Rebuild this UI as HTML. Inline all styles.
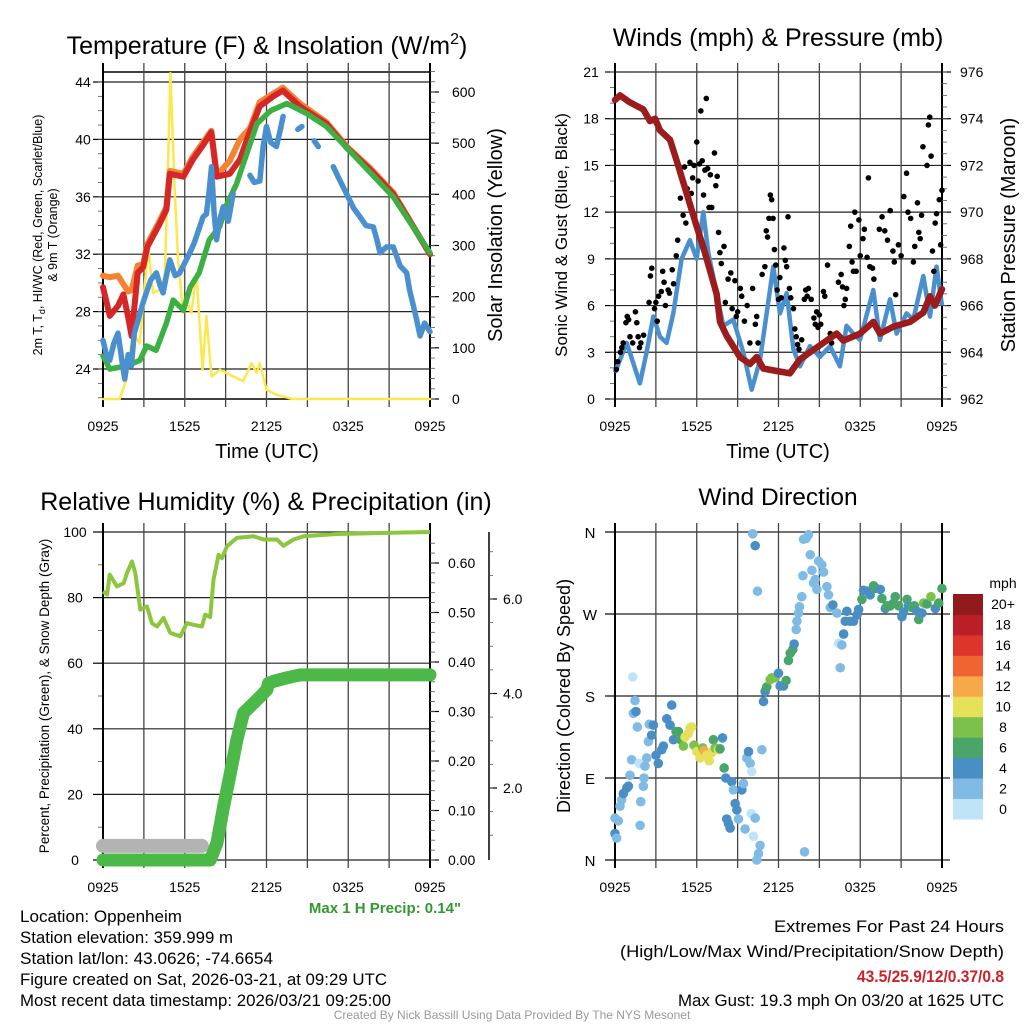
<!DOCTYPE html>
<html><head><meta charset="utf-8">
<style>
html,body{margin:0;padding:0;background:#fff;}
body{width:1024px;height:1024px;overflow:hidden;position:relative;font-family:"Liberation Sans",sans-serif;}
svg{position:absolute;left:0;top:0;}
text{font-family:"Liberation Sans",sans-serif;fill:#000;}
</style></head>
<body>
<svg id="chart" width="1024" height="1024" viewBox="0 0 1024 1024" xmlns="http://www.w3.org/2000/svg">
  <text x="267" y="54" font-size="25" text-anchor="middle">Temperature (F) &amp; Insolation (W/m<tspan dy="-10" font-size="16">2</tspan><tspan dy="10">)</tspan></text>
  <text x="778" y="46" font-size="25" text-anchor="middle">Winds (mph) &amp; Pressure (mb)</text>
  <text x="266" y="510" font-size="25" text-anchor="middle">Relative Humidity (%) &amp; Precipitation (in)</text>
  <text x="778" y="505" font-size="24.5" text-anchor="middle">Wind Direction</text>

  <text x="267" y="458" font-size="20" text-anchor="middle">Time (UTC)</text>
  <text x="778" y="458" font-size="20" text-anchor="middle">Time (UTC)</text>

  <text transform="translate(42,235) rotate(-90)" font-size="12.5" text-anchor="middle">2m T, T<tspan dy="3" font-size="9">d</tspan><tspan dy="-3">, HI/WC (Red, Green, Scarlet/Blue)</tspan></text>
  <text transform="translate(57,235) rotate(-90)" font-size="12.5" text-anchor="middle">&amp; 9m T (Orange)</text>
  <text transform="translate(502,235) rotate(-90)" font-size="20" text-anchor="middle">Solar Insolation (Yellow)</text>
  <text transform="translate(567,235) rotate(-90)" font-size="17" text-anchor="middle">Sonic Wind &amp; Gust (Blue, Black)</text>
  <text transform="translate(1015,235) rotate(-90)" font-size="20" text-anchor="middle">Station Pressure (Maroon)</text>
  <text transform="translate(49,696) rotate(-90)" font-size="13.5" text-anchor="middle">Percent, Precipitation (Green), &amp; Snow Depth (Gray)</text>
  <text transform="translate(570,696) rotate(-90)" font-size="18" text-anchor="middle">Direction (Colored By Speed)</text>

  <g id="layers"></g>

  <text x="385" y="913" font-size="15" font-weight="bold" text-anchor="middle" style="fill:#2f9a2f">Max 1 H Precip: 0.14"</text>
  <g font-size="16.5">
    <text x="20" y="922" textLength="162" lengthAdjust="spacingAndGlyphs">Location: Oppenheim</text>
    <text x="20" y="943" textLength="213" lengthAdjust="spacingAndGlyphs">Station elevation: 359.999 m</text>
    <text x="20" y="964" textLength="253" lengthAdjust="spacingAndGlyphs">Station lat/lon: 43.0626; -74.6654</text>
    <text x="20" y="985" textLength="367" lengthAdjust="spacingAndGlyphs">Figure created on Sat, 2026-03-21, at 09:29 UTC</text>
    <text x="20" y="1006" textLength="371" lengthAdjust="spacingAndGlyphs">Most recent data timestamp: 2026/03/21 09:25:00</text>
  </g>
  <g font-size="16.5">
    <text x="774" y="932" textLength="230" lengthAdjust="spacingAndGlyphs">Extremes For Past 24 Hours</text>
    <text x="620" y="957" textLength="384" lengthAdjust="spacingAndGlyphs">(High/Low/Max Wind/Precipitation/Snow Depth)</text>
    <text x="857" y="982" font-weight="bold" style="fill:#cc2229" textLength="147" lengthAdjust="spacingAndGlyphs">43.5/25.9/12/0.37/0.8</text>
    <text x="678" y="1006" textLength="326" lengthAdjust="spacingAndGlyphs">Max Gust: 19.3 mph On 03/20 at 1625 UTC</text>
  </g>
  <text x="512" y="1019" font-size="12" text-anchor="middle" style="fill:#999">Created By Nick Bassill Using Data Provided By The NYS Mesonet</text>
</svg>
<script>
// ---------- DATA (hours since 0925 UTC) ----------
const timeTickLabels = ["0925","1525","2125","0325","0925"];
const tempTicks = [24,28,32,36,40,44];
const insolTicks = [0,100,200,300,400,500,600];
const windTicks = [0,3,6,9,12,15,18,21];
const pressTicks = [962,964,966,968,970,972,974,976];
const rhTicks = [0,20,40,60,80,100];
const precipTicks = [0,0.1,0.2,0.3,0.4,0.5,0.6];
const snowTicks = [2,4,6];
const dirTicks = ["N","E","S","W","N"];
const speedBins = ["0","2","4","6","8","10","12","14","16","18","20+"];

const temp2m = [[0,29.7],[0.5,27.7],[1.1,28.4],[1.5,29.2],[1.85,27.6],[2.1,26.3],[2.55,30.7],[2.95,31.1],[3.25,32.5],[4.15,34.1],[4.65,35.1],[4.9,37.6],[5.9,37.4],[6.6,38.6],[7.35,39.6],[7.95,40.5],[8.35,37.4],[9.3,37.6],[10.05,38.6],[10.8,40.6],[11.5,42.3],[12.5,43.0],[13.2,43.4],[14.45,42.3],[16.4,41.1],[17.9,39.4],[19.6,37.9],[21.3,36.2],[24,32.0]];
const temp9m = [[0,30.5],[0.5,30.4],[1.1,30.5],[1.5,29.9],[1.85,29.4],[2.1,29.5],[2.55,31.2],[2.95,31.3],[3.25,32.7],[4.15,34.3],[4.65,35.3],[4.9,37.8],[5.9,37.6],[6.6,38.8],[7.35,39.8],[7.95,40.6],[8.35,37.5],[9.3,38.5],[10.05,40.0],[10.8,40.8],[11.5,42.6],[12.5,43.2],[13.2,43.6],[14.45,42.5],[16.4,41.2],[17.9,39.5],[19.6,38.0],[21.3,36.3],[24,32.0]];
const dewpoint = [[0,24.9],[0.5,24.0],[1.7,24.2],[2.7,24.6],[3.2,25.6],[3.9,25.3],[4.65,27.2],[5.15,28.8],[5.9,28.1],[6.4,29.7],[7.05,30.7],[7.8,33.0],[8.55,33.9],[9.1,35.5],[9.8,36.9],[10.55,39.0],[11.3,41.1],[12.3,42.0],[13.5,42.5],[14.95,41.8],[16.4,40.9],[17.9,39.4],[21.3,36.0],[24,32.1]];
const windChill = [[0,26],[0.3,24.8],[0.49,24.6],[0.8,25.8],[1.1,26.5],[1.4,24.5],[1.59,23.3],[1.85,25.0],[2.08,24.2],[2.3,26.5],[2.57,27.4],[2.9,28.5],[3.18,29.3],[3.5,30.2],[3.92,30.7],[4.2,29.8],[4.41,29.3],[4.65,30.5],[4.9,31.6],[5.3,30.5],[5.63,30.7],[6.0,31.4],[6.37,32.1],[6.7,32.8],[7.1,33.9],[7.35,34.6],[7.59,34.8],[7.8,36.5],[7.96,38.1],[8.15,35.0],[8.33,33.0],[8.6,34.5],[8.82,35.3],[9.2,34.3],[9.55,36.2],null,[10.78,37.5],[11.1,37.0],[11.51,37.1],[11.75,39.5],[12.0,40.9],[12.3,39.8],[12.73,39.5],[13.0,40.6],[13.22,41.6],null,[14.3,40.7],[14.6,40.9],null,[15.5,39.9],[15.8,39.5],null,[16.9,38.1],[17.3,37.3],[17.88,36.2],[18.4,35.2],[18.86,34.6],[19.3,34.0],[19.84,33.9],[20.1,33.0],[20.33,32.1],[20.8,32.5],[21.31,32.5],[21.8,31.2],[22.29,30.7],[22.5,29.5],[22.78,28.4],[23.0,27.5],[23.27,26.3],[23.6,27.2],[24,26.6]];
const insolation = [[0,0],[1.22,0],[1.71,38],[2.2,129],[2.69,109],[3.06,220],[3.31,298],[3.67,207],[4.16,214],[4.53,240],[4.7,383],[4.95,637],[5.27,403],[5.51,272],[5.88,168],[6.12,194],[6.49,168],[6.86,246],[7.3,57],[7.59,162],[7.96,44],[8.57,57],[9.55,44],[10.29,35],[10.9,70],[11.27,51],[11.51,70],[12,18],[12.73,8],[13.96,0],[24,0]];

const windSpeed = [[0,1.7],[0.86,3.6],[1.83,1],[2.32,3],[2.81,5.3],[3.3,4],[3.79,3.6],[4.28,5.5],[4.89,9],[5.5,10.2],[5.99,9],[6.48,12],[6.85,9.4],[7.46,6.8],[7.95,4.7],[8.68,5.1],[9.42,3],[10.03,0.6],[10.64,2.5],[11.62,8.5],[12.11,5.5],[12.6,6.8],[13.09,3.2],[13.58,2.1],[14.31,3.4],[15.04,2.7],[15.78,3.4],[16.51,2.1],[17,4.7],[17.49,4.2],[17.98,3.8],[18.96,7],[19.45,3.8],[20.18,6.4],[20.67,4.2],[21.4,5.5],[21.89,5.1],[22.63,7.9],[23.12,5.3],[23.6,8.5],[24,6]];
const windGust = [[0.1,1.9],[0.2,2.4],[0.4,3],[0.5,3.3],[0.6,3.6],[0.8,4.9],[0.9,5.3],[1.0,5.1],[1.1,4],[1.3,3.6],[1.5,5.6],[1.6,4.9],[1.7,4],[1.8,3.3],[1.9,3.6],[2.1,4.1],[2.5,6.2],[2.6,7.9],[2.7,8.4],[2.9,5.8],[3.0,6.2],[3.1,5],[3.2,6.6],[3.4,6.9],[3.5,8.2],[3.6,7.5],[3.7,6],[3.9,7],[4.0,6.8],[4.2,8.3],[4.3,7.4],[4.5,9.2],[4.6,10.2],[4.8,12.9],[5.0,11.8],[5.1,14.9],[5.2,11.3],[5.3,13.5],[5.5,15.2],[5.6,13.2],[5.7,14.2],[5.8,15],[6.0,16.5],[6.1,14],[6.2,15.1],[6.3,18.5],[6.4,15.3],[6.5,13.1],[6.6,14.7],[6.7,19.3],[6.8,14.8],[6.9,12.3],[7.0,14.4],[7.1,12.3],[7.3,15.8],[7.4,13.7],[7.5,14.3],[7.6,10.7],[7.7,9.4],[7.8,8.7],[8.0,9.8],[8.1,6.2],[8.3,7.7],[8.5,8.1],[8.6,5.8],[8.8,7.6],[8.9,5.3],[9.0,5.6],[9.2,7.1],[9.3,6.6],[9.5,5],[9.7,6],[9.9,3.6],[10.1,7.1],[10.3,4.8],[10.4,5.3],[10.5,3.6],[10.8,8],[11.0,8.5],[11.1,10.8],[11.2,10.4],[11.3,11.6],[11.4,13.1],[11.5,12.8],[11.6,11.6],[11.7,9.6],[11.8,8.6],[11.9,7],[12.0,6.4],[12.1,7.8],[12.2,6.5],[12.4,9.7],[12.5,8.9],[12.6,8.5],[12.7,11.7],[12.8,7.1],[12.9,6.5],[13.1,5.8],[13.2,4.5],[13.3,4],[13.4,3.5],[13.5,3.2],[13.7,3.8],[13.9,6.4],[14.0,7],[14.1,6.6],[14.2,7.1],[14.4,6.4],[14.6,5.2],[14.7,4.8],[14.8,5.6],[14.9,4.6],[15.0,5.4],[15.1,4.8],[15.3,6.9],[15.4,6.6],[15.6,8.6],[15.8,4.2],[15.9,3.6],[16.4,7.5],[16.6,8],[16.7,7.2],[16.8,6],[16.9,6.4],[17.0,7.1],[17.2,9.8],[17.3,11.1],[17.4,8.8],[17.5,8.2],[17.6,12],[17.7,8.2],[17.9,11.5],[18.0,9.2],[18.2,10.3],[18.3,10.9],[18.5,9.1],[18.6,14.2],[18.7,8.5],[18.9,8.4],[19.0,7.7],[19.4,10.9],[19.6,11.7],[19.8,10.8],[20.0,10.2],[20.2,12.1],[20.4,9.5],[20.5,8.8],[20.6,6.7],[20.8,9.9],[21.0,9.2],[21.2,13],[21.4,14.5],[21.5,12],[21.7,11.6],[21.9,8.8],[22.0,9.8],[22.2,12.6],[22.3,10.7],[22.4,10.3],[22.5,11.8],[22.6,16.2],[22.9,15],[23.0,17.6],[23.1,18.1],[23.2,15.6],[23.3,9.5],[23.4,8.2],[23.5,11.3],[23.6,11.9],[23.8,12.8],[23.9,9.9],[24,13.4]];
const pressure = [[0,974.8],[0.37,975],[1.1,974.7],[2.08,974.4],[2.57,973.9],[2.94,974],[3.3,973.5],[4.04,973.1],[4.53,972.2],[5.26,970.8],[5.99,969.4],[6.48,968.5],[6.97,967.5],[7.46,966.5],[7.71,965.3],[8.2,964.7],[9.17,963.8],[9.91,963.5],[10.4,963.8],[10.89,963.3],[11.87,963.2],[12.84,963.1],[13.58,963.7],[14.56,964.1],[15.53,964.5],[16.27,964.8],[16.76,964.5],[17.98,964.8],[18.96,965.3],[19.45,964.8],[20.43,965.1],[21.65,965.3],[22.63,965.7],[23.12,966.4],[23.48,966],[24,966.7]];

const relHumidity = [[0,81.9],[0.3,80.9],[0.49,87],[1.03,83.4],[1.52,84.4],[1.76,87.5],[2.13,91],[2.37,87.5],[2.74,76.3],[3.23,77.3],[3.59,72.2],[3.96,71.2],[4.45,73.8],[4.94,69.2],[5.67,68.2],[6.16,72.2],[6.65,71.7],[7.26,71.2],[7.5,74.8],[7.87,74.1],[8.11,85.5],[8.48,93],[8.73,92],[9.09,95.6],[9.83,98.2],[11.05,98.7],[11.79,97.7],[12.76,97.7],[13.25,95.8],[13.98,97.7],[14.72,98.7],[17.16,99.4],[24,100]];
const precipAccum = [[0,0],[7.87,0],[8.36,0.034],[8.85,0.108],[9.34,0.175],[9.83,0.243],[10.31,0.297],[10.8,0.31],[11.54,0.33],[12.03,0.344],[12.15,0.357],[12.52,0.361],[13.5,0.368],[14.47,0.374],[24,0.374]];
const snowDepthPct = [[0,4.3],[7.26,4.3]];

const windDir = [[0,46,2.5],[0,29,4.5],[0.12,24,2.5],[0.24,43,2.5],[0.37,59,2.5],[0.49,66,2.5],[0.61,73,4.5],[0.86,79,4.5],[0.98,81,4.5],[1.1,93,2.5],[1.22,110,2.5],[1.3,201,0.5],[1.35,161,2.5],[1.47,175,2.5],[1.54,163,4.5],[1.64,146,2.5],[1.79,106,0.5],[1.89,64,2.5],[1.84,38,2.5],[2.08,81,2.5],[2.13,90,2.5],[2.2,103,2.5],[2.33,112,2.5],[2.45,130,2.5],[2.52,149,2.5],[2.69,137,4.5],[2.82,148,4.5],[3.01,115,4.5],[3.18,106,4.5],[3.43,121,4.5],[3.55,125,4.5],[3.8,155,4.5],[4.04,148,4.5],[4.16,170,4.5],[4.29,132,4.5],[4.48,141,6.5],[4.65,141,6.5],[4.82,132,6.5],[5.02,125,8.5],[5.14,135,10.5],[5.39,139,10.5],[5.51,145,10.5],[5.63,146,10.5],[5.8,126,8.5],[6,119,10.5],[6.24,112,10.5],[6.44,123,8.5],[6.54,120,12.5],[6.73,115,10.5],[6.91,109,10.5],[7.1,118,10.5],[7.22,132,6.5],[7.35,123,8.5],[7.59,121,10.5],[7.71,122,6.5],[7.89,134,4.5],[8.01,101,6.5],[8.13,90,4.5],[8.57,86,4.5],[8.69,77,2.5],[8.82,62,4.5],[8.94,55,4.5],[9.06,45,2.5],[8.2,45,4.5],[8.33,40,4.5],[8.45,35,4.5],[9.31,77,4.5],[9.43,84,2.5],[9.55,34,2.5],[9.67,112,2.5],[9.8,119,4.5],[9.92,106,2.5],[9.99,51,0.5],[10.04,97,0.5],[10.16,26,0.5],[10.29,46,2.5],[10.41,0,2.5],[10.53,7,2.5],[10.65,16,2.5],[10.78,121,2.5],[10.11,358,2.5],[10.29,345,4.5],[10.46,295,2.5],[10.9,174,4.5],[11.02,185,4.5],[11.14,190,6.5],[11.39,198,8.5],[11.51,200,8.5],[11.75,200,8.5],[12,205,4.5],[12.12,191,4.5],[12.37,191,4.5],[12.56,197,6.5],[12.73,219,6.5],[12.86,227,6.5],[13.05,231,6.5],[13.15,237,4.5],[13.3,253,2.5],[13.35,262,2.5],[13.47,271,2.5],[13.54,278,2.5],[13.71,289,2.5],[13.79,312,2.5],[13.91,9,2.5],[13.84,352,2.5],[14.03,353,2.5],[14.2,357,2.5],[14.33,335,2.5],[14.45,318,2.5],[14.57,304,2.5],[14.69,308,2.5],[14.82,297,2.5],[14.94,328,2.5],[15.18,324,2.5],[15.31,316,2.5],[15.55,300,2.5],[15.67,291,2.5],[15.8,277,2.5],[15.99,280,4.5],[16.29,271,2.5],[16.41,238,0.5],[16.53,211,2.5],[16.65,236,2.5],[16.78,248,4.5],[16.9,262,4.5],[17.02,273,4.5],[17.26,262,4.5],[17.51,262,4.5],[17.76,269,4.5],[17.88,275,4.5],[18.12,286,6.5],[18.24,296,4.5],[18.49,295,4.5],[18.73,291,4.5],[18.98,301,6.5],[19.18,298,6.5],[19.47,297,4.5],[19.59,287,6.5],[19.84,276,4.5],[19.96,279,6.5],[20.2,279,6.5],[20.45,282,6.5],[20.57,289,6.5],[20.82,279,6.5],[21.06,267,4.5],[21.18,272,4.5],[21.43,286,6.5],[21.55,279,4.5],[21.8,277,6.5],[21.97,279,6.5],[22.16,273,4.5],[22.29,264,6.5],[22.53,271,4.5],[22.65,282,8.5],[22.9,281,6.5],[23.19,289,8.5],[23.51,276,4.5],[23.76,282,6.5],[24,298,6.5]];

const binColors = ["#bfe4f8","#80bbe5","#4a8ec6","#4aa56a","#7cc24a","#e6df5a","#f7a94a","#ef6430","#dd352b","#bb1e26","#901a1c"];

// ---------- helpers ----------
const NS = "http://www.w3.org/2000/svg";
const layers = document.getElementById('layers');
function el(tag, attrs, parent) {
  const e = document.createElementNS(NS, tag);
  for (const k in attrs) e.setAttribute(k, attrs[k]);
  (parent || layers).appendChild(e);
  return e;
}
function makeX(x0, x1) { return h => x0 + h / 24 * (x1 - x0); }
function linY(v0, y0, v1, y1) { return v => y0 + (v - v0) * (y1 - y0) / (v1 - v0); }
function pathFrom(pts, xf, yf) {
  let d = "", pen = false;
  for (const p of pts) {
    if (!p) { pen = false; continue; }
    d += (pen ? "L" : "M") + xf(p[0]).toFixed(1) + "," + yf(p[1]).toFixed(1);
    pen = true;
  }
  return d;
}
function line(g, x1, y1, x2, y2, stroke, w) {
  return el('line', {x1, y1, x2, y2, stroke, 'stroke-width': w}, g);
}
function txt(g, x, y, s, size, anchor) {
  const t = el('text', {x, y, 'font-size': size, 'text-anchor': anchor || 'middle'}, g);
  t.textContent = s;
  return t;
}
function timeAxis(g, x0, x1, top, bot) {
  const xf = makeX(x0, x1);
  for (let h = 0; h <= 24; h += 3) {
    const x = xf(h);
    line(g, x, top - 9, x, bot + 8, (h === 0 || h === 24) ? "#000" : "#444", (h === 0 || h === 24) ? 2 : 1.3);
  }
  timeTickLabels.forEach((s, i) => {
    const t = txt(g, xf(i * 6), bot + 32, s, 14);
    
    
  });
}

// ---------- PANEL 1: Temperature ----------
(function () {
  const g = el('g', {});
  
  
  const x0 = 103, x1 = 430, top = 72, bot = 399;
  const xf = makeX(x0, x1);
  const yT = linY(44, 82, 24, 369);
  const yS = linY(0, 399, 600, 92);
  const grid = el('g', {}, g);
  
  
  tempTicks.forEach(v => {
    line(grid, x0, yT(v), x1, yT(v), "#222", 1.2);
    line(grid, x0 - 10, yT(v), x0, yT(v), "#000", 1.2);
    const t = txt(grid, x0 - 20, yT(v) + 5, String(v), 14);
    
    
  });
  for (let v = 22; v <= 44; v++) line(grid, x0 - 5, yT(v), x0, yT(v), "#555", 0.8);
  line(grid, x0, top, x1, top, "#000", 1.5);
  line(grid, x0, bot, x1, bot, "#000", 1.5);
  timeAxis(grid, x0, x1, top, bot);
  insolTicks.forEach(v => {
    line(grid, x1, yS(v), x1 + 9, yS(v), "#000", 1.2);
    const t = txt(grid, x1 + 22, yS(v) + 5, String(v), 14, 'start');
    
    
  });
  for (let v = 0; v <= 640; v += 20) line(grid, x1, yS(v), x1 + 5, yS(v), "#555", 0.8);

  const series = [
    ['insolation-line', insolation, yS, '#fde74c', 2.5],
    ['temp-9m-line', temp9m, yT, '#f58231', 6],
    ['temp-2m-line', temp2m, yT, '#d62728', 6],
    ['dewpoint-line', dewpoint, yT, '#3cb043', 5.5],
    ['windchill-line', windChill, yT, '#4a90cf', 5.5]
  ];
  series.forEach(s => {
    const p = el('path', {d: pathFrom(s[1], xf, s[2]), fill: 'none', stroke: s[3], 'stroke-width': s[4], 'stroke-linejoin': 'round', 'stroke-linecap': 'round'}, g);
    
    
  });
})();

// ---------- PANEL 2: Wind ----------
(function () {
  const g = el('g', {});
  
  
  const x0 = 615, x1 = 942, top = 72, bot = 399;
  const xf = makeX(x0, x1);
  const yW = linY(0, 399, 21, 72);
  const yP = linY(962, 399, 976, 72);
  const grid = el('g', {}, g);
  
  
  windTicks.forEach(v => {
    line(grid, x0, yW(v), x1, yW(v), "#222", 1.2);
    line(grid, x0 - 10, yW(v), x0, yW(v), "#000", 1.2);
    const t = txt(grid, x0 - 24, yW(v) + 5, String(v), 14);
    
    
  });
  for (let v = 0; v <= 21; v++) line(grid, x0 - 5, yW(v), x0, yW(v), "#555", 0.8);
  timeAxis(grid, x0, x1, top, bot);
  pressTicks.forEach(v => {
    line(grid, x1, yP(v), x1 + 9, yP(v), "#000", 1.2);
    const t = txt(grid, x1 + 18, yP(v) + 5, String(v), 14, 'start');
    
    
  });
  for (let v = 962; v <= 976; v += 0.5) line(grid, x1, yP(v), x1 + 5, yP(v), "#555", 0.8);

  const ws = el('path', {d: pathFrom(windSpeed, xf, yW), fill: 'none', stroke: '#4a90cf', 'stroke-width': 4.5, 'stroke-linejoin': 'round'}, g);
  
  
  const gg = el('g', {fill: '#000'}, g);
  
  
  windGust.forEach(p => {
    const c = el('circle', {cx: xf(p[0]), cy: yW(p[1]), r: 2.8}, gg);
    
    
  });
  const pr = el('path', {d: pathFrom(pressure, xf, yP), fill: 'none', stroke: '#9b1c1c', 'stroke-width': 6.5, 'stroke-linejoin': 'round', 'stroke-linecap': 'round'}, g);
  
  
})();

// ---------- PANEL 3: RH & Precip ----------
(function () {
  const g = el('g', {});
  
  
  const x0 = 103, x1 = 430, top = 532, bot = 860;
  const xf = makeX(x0, x1);
  const yR = linY(0, 860, 100, 532);
  const yI = linY(0, 860, 0.6, 563);
  const ySn = linY(2, 788, 6, 599);
  const grid = el('g', {}, g);
  
  
  rhTicks.forEach(v => {
    line(grid, x0, yR(v), x1, yR(v), "#222", 1.2);
    line(grid, x0 - 10, yR(v), x0, yR(v), "#000", 1.2);
    const t = txt(grid, x0 - 28, yR(v) + 5, String(v), 14);
    
    
  });
  for (let v = 10; v <= 90; v += 20) line(grid, x0 - 5, yR(v), x0, yR(v), "#555", 0.8);
  timeAxis(grid, x0, x1, top, bot);
  precipTicks.forEach(v => {
    line(grid, x1, yI(v), x1 + 9, yI(v), "#000", 1.2);
    const t = txt(grid, x1 + 18, yI(v) + 5, v.toFixed(2), 14, 'start');
    
    
  });
  for (let v = 0; v <= 0.66; v += 0.02) line(grid, x1, yI(v), x1 + 5, yI(v), "#555", 0.8);
  line(grid, 489, top, 489, bot, "#000", 1.5);
  snowTicks.forEach(v => {
    line(grid, 489, ySn(v), 497, ySn(v), "#000", 1.2);
    const t = txt(grid, 503, ySn(v) + 5, v.toFixed(1), 14, 'start');
    
    
  });
  for (let v = 1; v <= 7; v += 0.5) { const y = ySn(v); if (y >= top && y <= bot) line(grid, 489, y, 493, y, "#555", 0.8); }

  const sn = el('path', {d: pathFrom(snowDepthPct, xf, yR), fill: 'none', stroke: '#b3b3b3', 'stroke-width': 14, 'stroke-linecap': 'round'}, g);
  
  
  const rh = el('path', {d: pathFrom(relHumidity, xf, yR), fill: 'none', stroke: '#8cc63f', 'stroke-width': 4, 'stroke-linejoin': 'round'}, g);
  
  
  const pc = el('path', {d: pathFrom(precipAccum, xf, yI), fill: 'none', stroke: '#4cb848', 'stroke-width': 13, 'stroke-linejoin': 'round', 'stroke-linecap': 'round'}, g);
  
  
})();

// ---------- PANEL 4: Wind direction ----------
(function () {
  const g = el('g', {});
  
  
  const x0 = 615, x1 = 942, top = 532, bot = 860;
  const xf = makeX(x0, x1);
  const yD = linY(0, 860, 360, 532);
  const grid = el('g', {}, g);
  
  
  dirTicks.forEach((s, i) => {
    const y = yD(i * 90);
    line(grid, x0, y, x1 + 8, y, "#222", 1.2);
    line(grid, x0 - 10, y, x0, y, "#000", 1.2);
    const t = txt(grid, x0 - 25, y + 6, s, 15);
    
    
  });
  timeAxis(grid, x0, x1, top, bot);
  const dg = el('g', {}, g);
  
  
  windDir.forEach(p => {
    const bin = Math.min(10, Math.floor(p[2] / 2));
    const c = el('circle', {cx: xf(p[0]), cy: yD(p[1]), r: 4.8, fill: binColors[bin]}, dg);
    
    
  });
  // colorbar
  const cb = el('g', {}, g);
  
  
  const cbTop = 594, cbBot = 819, bh = (cbBot - cbTop) / speedBins.length;
  const ml = txt(cb, 1003, 588, 'mph', 14);
  
  
  speedBins.forEach((s, i) => {
    const y = cbBot - (i + 1) * bh;
    const r = el('rect', {x: 953, y: y, width: 30, height: bh + 0.5, fill: binColors[i]}, cb);
    
    
    const t = txt(cb, 1003, y + bh / 2 + 5, s, 14);
    
    
  });
})();
</script>
</body></html>
